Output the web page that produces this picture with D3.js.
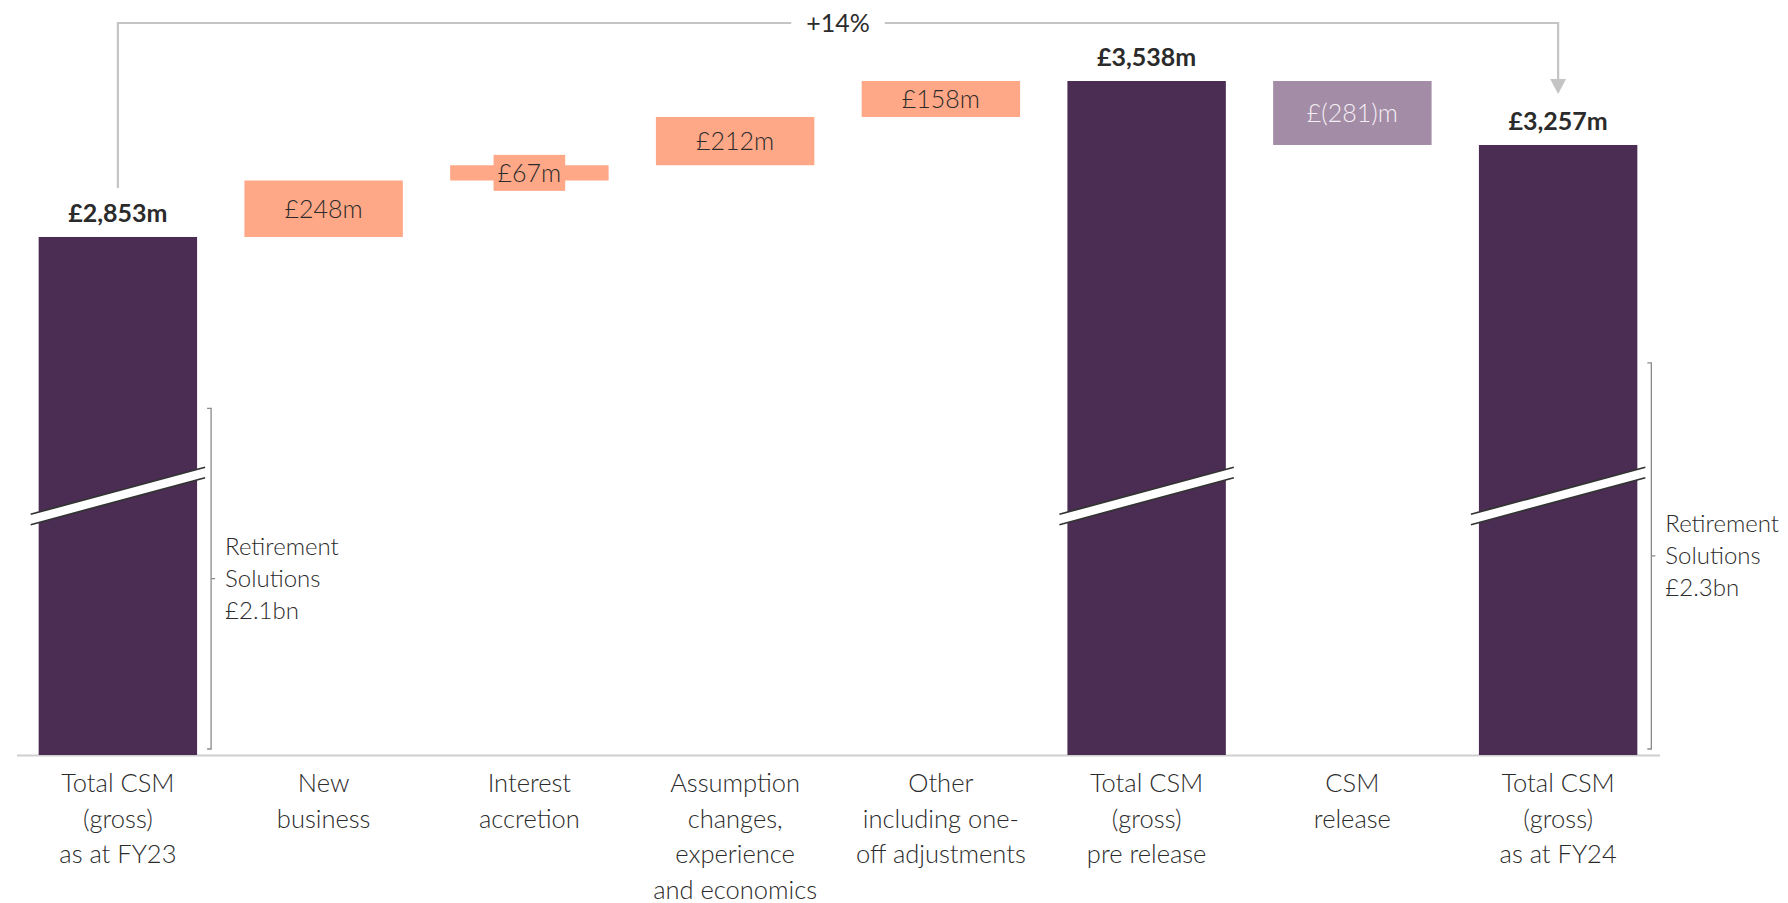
<!DOCTYPE html>
<html>
<head>
<meta charset="utf-8">
<script src="https://cdn.jsdelivr.net/npm/d3@7"></script>
<style>
  html, body { margin: 0; padding: 0; background: #ffffff; }
  svg { display: block; font-family: Lato, "Open Sans", sans-serif; }
</style>
</head>
<body>
<svg id="chart" width="1788" height="903"></svg>
<script>
// CSM movement walk, £m
const categories = [
  ["Total CSM", "(gross)", "as at FY23"],
  ["New", "business"],
  ["Interest", "accretion"],
  ["Assumption", "changes,", "experience", "and economics"],
  ["Other", "including one-", "off adjustments"],
  ["Total CSM", "(gross)", "pre release"],
  ["CSM", "release"],
  ["Total CSM", "(gross)", "as at FY24"]
];
const barKinds = ["total", "increase", "increase", "increase", "increase", "total", "decrease", "total"];
const values = [2853, 248, 67, 212, 158, 3538, -281, 3257];
const valueLabels = ["£2,853m", "£248m", "£67m", "£212m", "£158m", "£3,538m", "£(281)m", "£3,257m"];

// Retirement Solutions share shown beside the opening and closing totals
const segmentBars = [0, 7];
const segmentValues = [2100, 2300];
const segmentLabels = [["Retirement", "Solutions", "£2.1bn"], ["Retirement", "Solutions", "£2.3bn"]];

// Growth from opening to closing total
const growthFrom = 0, growthTo = 7;
const growthLabel = "+14%";

// value hidden by the broken axis (bars start here at the baseline)
const axisBreakFloor = 578;

const colors = {
  total: "#4b2d54",
  increase: "#ffa887",
  decrease: "#a38ca6",
  text: "#2b2b2b",
  lightText: "#f4eff4",
  guide: "#c4c4c4",
  bracket: "#8a8a8a",
  axis: "#cfcfcf"
};

const svg = d3.select("#chart");
const baseY = 755;

// running totals: each bar spans [start, end]
let running = 0;
const bars = values.map((v, i) => {
  let start, end;
  if (barKinds[i] === "total") { start = axisBreakFloor; end = v; running = v; }
  else { start = running; end = running + v; running = end; }
  return { i, kind: barKinds[i], value: v, start, end, label: valueLabels[i], cat: categories[i] };
});

const x = d3.scaleBand()
  .domain(d3.range(categories.length))
  .range([15, 1661])
  .paddingInner(0.23)
  .paddingOuter(0.115);

const y = d3.scaleLinear()
  .domain([axisBreakFloor, d3.max(bars, d => Math.max(d.start, d.end))])
  .range([baseY, 81]);

const bw = x.bandwidth();
const cx = i => x(i) + bw / 2;

// baseline
svg.append("line")
  .attr("x1", x.range()[0] + 2).attr("x2", x.range()[1] - 1)
  .attr("y1", baseY + 0.5).attr("y2", baseY + 0.5)
  .attr("stroke", colors.axis).attr("stroke-width", 2);

// bars
svg.append("g").selectAll("rect")
  .data(bars)
  .join("rect")
  .attr("x", d => x(d.i))
  .attr("width", bw)
  .attr("y", d => y(Math.max(d.start, d.end)))
  .attr("height", d => Math.abs(y(d.start) - y(d.end)))
  .attr("fill", d => colors[d.kind]);

// axis break marks across the total bars
const breakY = 496, breakRise = 47, breakGap = 10.5, breakOver = 8;
const totals = bars.filter(d => d.kind === "total");
const brk = svg.append("g");
totals.forEach(d => {
  const x0 = x(d.i) - breakOver, x1 = x(d.i) + bw + breakOver;
  const yl = breakY + breakRise / 2 - breakGap / 2, yr = breakY - breakRise / 2 - breakGap / 2;
  brk.append("path")
    .attr("d", `M${x0},${yl}L${x1},${yr}L${x1},${yr + breakGap}L${x0},${yl + breakGap}Z`)
    .attr("fill", "#ffffff");
  [0, breakGap].forEach(off => {
    brk.append("line")
      .attr("x1", x0).attr("y1", yl + off)
      .attr("x2", x1).attr("y2", yr + off)
      .attr("stroke", "#333333").attr("stroke-width", 1.8);
  });
});

// value labels
const labels = svg.append("g").attr("fill", colors.text).attr("text-anchor", "middle");
bars.forEach(d => {
  if (d.kind === "total") {
    labels.append("text")
      .attr("x", cx(d.i)).attr("y", y(d.end) - 15)
      .attr("font-size", 25).attr("font-weight", 700)
      .text(d.label);
  } else {
    const yTop = y(Math.max(d.start, d.end)), yBot = y(Math.min(d.start, d.end));
    const yMid = (yTop + yBot) / 2;
    const t = labels.append("text")
      .attr("x", cx(d.i)).attr("y", yMid).attr("dy", "0.36em")
      .attr("font-size", 25).attr("font-weight", 300)
      .attr("fill", d.kind === "decrease" ? colors.lightText : colors.text)
      .text(d.label);
    // thin bars get a label plate of the same fill
    if (yBot - yTop < 30) {
      const w = t.node().getComputedTextLength() + 8;
      labels.insert("rect", () => t.node())
        .attr("x", cx(d.i) - w / 2).attr("y", yMid - 18)
        .attr("width", w).attr("height", 36)
        .attr("fill", colors[d.kind]);
    }
  }
});

// category labels
const cats = svg.append("g").attr("fill", colors.text).attr("text-anchor", "middle")
  .attr("font-size", 25.5).attr("font-weight", 300);
bars.forEach(d => {
  const t = cats.append("text").attr("x", cx(d.i)).attr("y", 792);
  d.cat.forEach((line, k) => {
    t.append("tspan").attr("x", cx(d.i)).attr("y", 792 + k * 35.5).text(line);
  });
});

// Retirement Solutions brackets
segmentBars.forEach((bi, k) => {
  const bx = x(bi) + bw + 14;
  const yTop = y(segmentValues[k]), yBot = baseY - 6;
  const yMid = (yTop + yBot) / 2;
  const g = svg.append("g");
  g.append("path")
    .attr("d", `M${bx - 4},${yTop}H${bx}V${yBot}H${bx - 4}M${bx},${yMid}H${bx + 4}`)
    .attr("fill", "none").attr("stroke", colors.bracket).attr("stroke-width", 1.3);
  const t = g.append("text").attr("fill", colors.text).attr("font-size", 24).attr("font-weight", 300);
  segmentLabels[k].forEach((line, j) => {
    t.append("tspan").attr("x", bx + 14).attr("y", yMid + 8 + (j - 1) * 32).text(line);
  });
});

// growth connector over the chart
const gy = 23;
const gx0 = cx(growthFrom), gx1 = cx(growthTo);
const guide = svg.append("g");
guide.append("path")
  .attr("d", `M${gx0},${y(values[growthFrom]) - 49}V${gy}H${gx1}V${y(values[growthTo]) - 65}`)
  .attr("fill", "none").attr("stroke", colors.guide).attr("stroke-width", 2.2);
const tipY = y(values[growthTo]) - 51;
guide.append("path")
  .attr("d", `M${gx1 - 8},${tipY - 15}L${gx1 + 8},${tipY - 15}L${gx1},${tipY}Z`)
  .attr("fill", colors.guide);
const gl = guide.append("text")
  .attr("x", (gx0 + gx1) / 2).attr("y", gy).attr("dy", "0.36em")
  .attr("text-anchor", "middle").attr("font-size", 25).attr("font-weight", 400).attr("fill", colors.text)
  .text(growthLabel);
const glw = gl.node().getComputedTextLength() + 30;
guide.insert("rect", () => gl.node())
  .attr("x", (gx0 + gx1) / 2 - glw / 2).attr("y", gy - 14)
  .attr("width", glw).attr("height", 28).attr("fill", "#ffffff");
</script>
</body>
</html>
